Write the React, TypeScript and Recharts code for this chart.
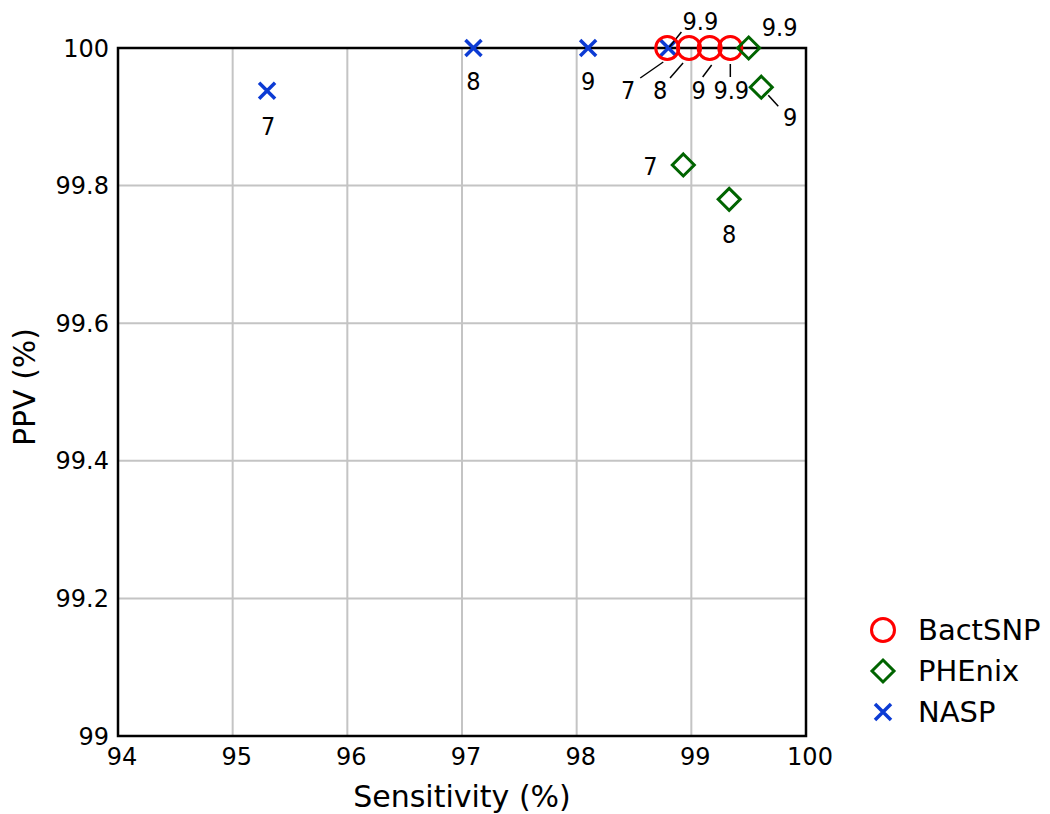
import React from "react";
import {
  ScatterChart,
  Scatter,
  XAxis,
  YAxis,
  CartesianGrid,
  ReferenceArea,
  Legend,
} from "recharts";

// --- data ---
const bactsnpSens = [98.79, 98.98, 99.16, 99.34];
const bactsnpPpv = [100, 100, 100, 100];
const bactsnpLabels = ["7", "8", "9", "9.9"];

const phenixSens = [98.93, 99.33, 99.61, 99.5];
const phenixPpv = [99.83, 99.78, 99.943, 100];
const phenixLabels = ["7", "8", "9", "9.9"];

const naspSens = [95.3, 97.1, 98.1, 98.8];
const naspPpv = [99.938, 100, 100, 100];
const naspLabels = ["7", "8", "9", "9.9"];

const xTicks = [94, 95, 96, 97, 98, 99, 100];
const yTicks = [99, 99.2, 99.4, 99.6, 99.8, 100];

const RED = "#ff0000";
const GREEN = "#006400";
const BLUE = "#0c3bd4";

// label placement relative to marker centre: [dx, dy, leader line from, leader line to]
type Place = { dx: number; dy: number; line?: [number, number, number, number] };
const bactsnpPlace: Place[] = [
  { dx: -39, dy: 42, line: [-4, 14, -27, 30] },
  { dx: -29, dy: 42, line: [-6, 15, -19, 30] },
  { dx: -11, dy: 42, line: [2, 17, -7, 29] },
  { dx: 1, dy: 42, line: [0, 16, 0, 29] },
];
const phenixPlace: Place[] = [
  { dx: -33, dy: 2 },
  { dx: 0, dy: 35 },
  { dx: 29, dy: 30, line: [7, 8, 17, 19] },
  { dx: 31, dy: -21 },
];
const naspPlace: Place[] = [
  { dx: 1, dy: 36 },
  { dx: 0, dy: 33 },
  { dx: 0, dy: 33 },
  { dx: 32, dy: -27, line: [1, -1, 13, -16] },
];

const zip = (sens: number[], ppv: number[], labels: string[]) =>
  sens.map((s, i) => ({ sens: s, ppv: ppv[i], label: labels[i], idx: i }));

const bactsnp = zip(bactsnpSens, bactsnpPpv, bactsnpLabels);
const phenix = zip(phenixSens, phenixPpv, phenixLabels);
const nasp = zip(naspSens, naspPpv, naspLabels);

const LABEL_FONT = "'Liberation Sans Narrow', 'DejaVu Sans Condensed', sans-serif";
const FONT = "'DejaVu Sans', sans-serif";

function PointLabel({ cx, cy, text, place }: { cx: number; cy: number; text: string; place: Place }) {
  return (
    <g>
      {place.line && (
        <line
          x1={cx + place.line[0]}
          y1={cy + place.line[1]}
          x2={cx + place.line[2]}
          y2={cy + place.line[3]}
          stroke="#000"
          strokeWidth={1.5}
        />
      )}
      <text
        x={cx + place.dx}
        y={cy + place.dy}
        textAnchor="middle"
        dominantBaseline="central"
        fontFamily={LABEL_FONT}
        fontSize={25}
        fill="#000"
      >
        {text}
      </text>
    </g>
  );
}

function CircleMark({ cx, cy }: { cx: number; cy: number }) {
  return <circle cx={cx} cy={cy} r={11.5} fill="none" stroke={RED} strokeWidth={3} />;
}

function DiamondMark({ cx, cy }: { cx: number; cy: number }) {
  const r = 11;
  return (
    <path
      d={`M${cx},${cy - r}L${cx + r},${cy}L${cx},${cy + r}L${cx - r},${cy}Z`}
      fill="none"
      stroke={GREEN}
      strokeWidth={3}
    />
  );
}

function CrossMark({ cx, cy }: { cx: number; cy: number }) {
  const r = 8;
  return (
    <path
      d={`M${cx - r},${cy - r}L${cx + r},${cy + r}M${cx - r},${cy + r}L${cx + r},${cy - r}`}
      stroke={BLUE}
      strokeWidth={3.5}
    />
  );
}

const makeShape =
  (Mark: React.FC<{ cx: number; cy: number }>, places: Place[]) =>
  (props: any) => {
    const { cx, cy, payload } = props;
    return (
      <g>
        <Mark cx={cx} cy={cy} />
        <PointLabel cx={cx} cy={cy} text={payload.label} place={places[payload.idx]} />
      </g>
    );
  };

const legendItems = [
  { name: "BactSNP", Mark: CircleMark },
  { name: "PHEnix", Mark: DiamondMark },
  { name: "NASP", Mark: CrossMark },
];

function LegendBox() {
  return (
    <svg width={190} height={130}>
      {legendItems.map((it, i) => (
        <g key={it.name}>
          <it.Mark cx={23} cy={22 + i * 41} />
          <text
            x={58}
            y={22 + i * 41}
            dominantBaseline="central"
            fontFamily={FONT}
            fontSize={29}
            fill="#000"
          >
            {it.name}
          </text>
        </g>
      ))}
    </svg>
  );
}

const fmtY = (v: number) => (Number.isInteger(v) ? String(v) : v.toFixed(1));

export default function App() {
  return (
    <div style={{ position: "absolute", left: 0, top: 0, background: "#fff" }}>
      <ScatterChart
        width={1050}
        height={814}
        margin={{ top: 48, right: 244, left: 8, bottom: 28 }}
      >
        <CartesianGrid stroke="#c4c4c4" strokeWidth={2} />
        <XAxis
          type="number"
          dataKey="sens"
          domain={[94, 100]}
          ticks={xTicks}
          height={50}
          axisLine={false}
          tickLine={false}
          tickMargin={6}
          tick={{ fill: "#000", fontSize: 24, fontFamily: FONT, dx: 4 }}
          label={{
            content: ({ viewBox }: any) => (
              <text
                x={viewBox.x + viewBox.width / 2}
                y={796}
                textAnchor="middle"
                dominantBaseline="central"
                fontFamily={FONT}
                fontSize={30}
                fill="#000"
              >
                Sensitivity (%)
              </text>
            ),
          }}
        />
        <YAxis
          type="number"
          dataKey="ppv"
          domain={[99, 100]}
          ticks={yTicks}
          width={110}
          axisLine={false}
          tickLine={false}
          tickMargin={3}
          tickFormatter={fmtY}
          tick={{ fill: "#000", fontSize: 24, fontFamily: FONT }}
          label={{
            content: ({ viewBox }: any) => (
              <text
                x={24}
                y={viewBox.y + viewBox.height / 2 - 5}
                textAnchor="middle"
                dominantBaseline="central"
                fontFamily={FONT}
                fontSize={30}
                fill="#000"
                transform={`rotate(-90 24 ${viewBox.y + viewBox.height / 2 - 5})`}
              >
                PPV (%)
              </text>
            ),
          }}
        />
        <ReferenceArea
          x1={94}
          x2={100}
          y1={99}
          y2={100}
          fill="none"
          stroke="#000"
          strokeWidth={2.5}
          fillOpacity={0}
          strokeOpacity={1}
        />
        <Legend
          layout="vertical"
          align="center"
          verticalAlign="middle"
          content={() => <LegendBox />}
          wrapperStyle={{ left: 860, top: 608, width: 190 }}
        />
        <Scatter
          name="NASP"
          data={nasp}
          shape={makeShape(CrossMark, naspPlace)}
          isAnimationActive={false}
        />
        <Scatter
          name="BactSNP"
          data={bactsnp}
          shape={makeShape(CircleMark, bactsnpPlace)}
          isAnimationActive={false}
        />
        <Scatter
          name="PHEnix"
          data={phenix}
          shape={makeShape(DiamondMark, phenixPlace)}
          isAnimationActive={false}
        />
      </ScatterChart>
    </div>
  );
}
